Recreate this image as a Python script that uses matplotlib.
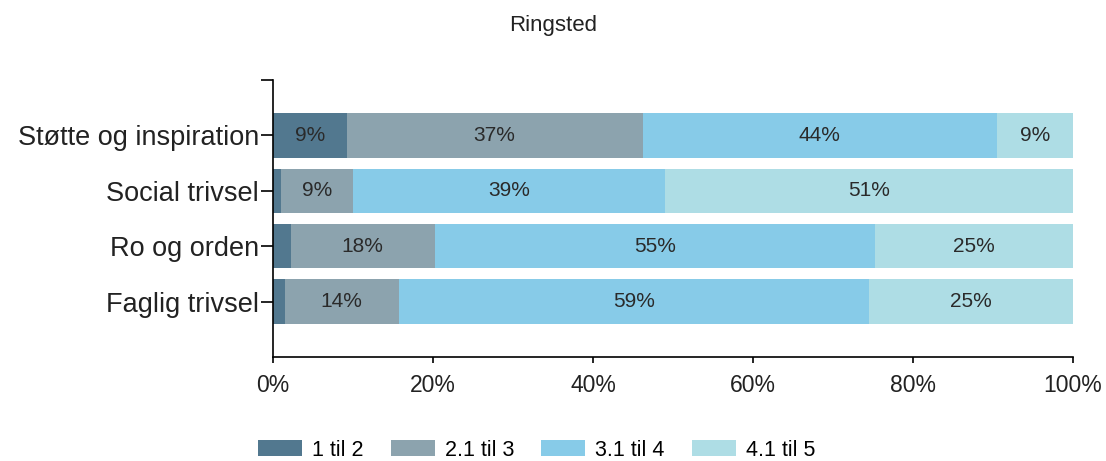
import numpy as np
import matplotlib.pyplot as plt

plt.rcParams['font.family'] = ['Liberation Sans', 'DejaVu Sans']

# data
categories = ['Støtte og inspiration', 'Social trivsel', 'Ro og orden', 'Faglig trivsel']
series = ['1 til 2', '2.1 til 3', '3.1 til 4', '4.1 til 5']
values = {
    '1 til 2':   [9.2, 1.0, 2.2, 1.5],
    '2.1 til 3': [37.0, 9.0, 18.0, 14.2],
    '3.1 til 4': [44.3, 39.0, 55.0, 58.8],
    '4.1 til 5': [9.5, 51.0, 24.8, 25.5],
}
labels = {
    '1 til 2':   ['9%', '', '', ''],
    '2.1 til 3': ['37%', '9%', '18%', '14%'],
    '3.1 til 4': ['44%', '39%', '55%', '59%'],
    '4.1 til 5': ['9%', '51%', '25%', '25%'],
}
colors = ['#52788f', '#8ca3ae', '#87cbe8', '#aedde5']

fig = plt.figure(figsize=(11.06, 4.61), dpi=100)
ax = fig.add_axes([0.2468, 0.2256, 0.7234, 0.6009])

y = np.arange(len(categories))[::-1]
left = np.zeros(len(categories))
handles = []
for s, c in zip(series, colors):
    v = np.array(values[s])
    b = ax.barh(y, v, left=left, height=0.8, color=c, label=s)
    handles.append(b)
    for yi, li, vi, lab in zip(y, left, v, labels[s]):
        if lab:
            ax.text(li + vi / 2, yi, lab, ha='center', va='center', fontsize=15, color='#2a2a2a')
    left += v

ax.set_xlim(0, 100)
ax.set_ylim(-1, 4)
ax.set_xticks(np.arange(0, 101, 20))
ax.set_xticklabels([f'{t}%' for t in range(0, 101, 20)], fontsize=16.5, color='#222222')
ax.set_yticks(list(y) + [4])
ax.set_yticklabels(categories + [''], fontsize=19.5, color='#222222')
ax.tick_params(axis='y', length=9, width=1.2, color='black', pad=1)
ax.tick_params(axis='x', length=4, width=1.2, color='black', pad=8)
for sp in ['top', 'right']:
    ax.spines[sp].set_visible(False)
for sp in ['left', 'bottom']:
    ax.spines[sp].set_linewidth(1.2)

fig.text(0.5, 1 - 25 / 461, 'Ringsted', ha='center', va='center', fontsize=16, color='#222222')

fig.legend(handles=handles, labels=series, loc='center left', bbox_to_anchor=(258 / 1106, 1 - 450 / 461),
           ncol=4, frameon=False, fontsize=15.5, handlelength=2.05, handleheight=0.75,
           columnspacing=1.25, handletextpad=0.47, borderaxespad=0, borderpad=0)

plt.savefig('out.png', dpi=100)
